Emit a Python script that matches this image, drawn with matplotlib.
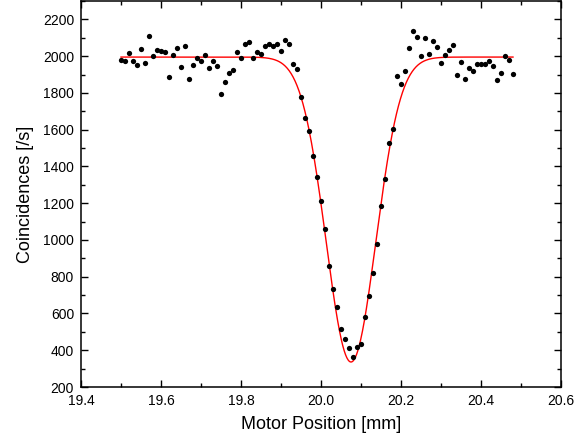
import numpy as np
import matplotlib
matplotlib.use('Agg')
import matplotlib.pyplot as plt
from matplotlib.ticker import MultipleLocator

plt.rcParams['font.family'] = ['Liberation Sans', 'DejaVu Sans']

# Motor positions [mm], step 0.01 from 19.50 to 20.48
positions = np.round(np.arange(19.50, 20.485, 0.01), 2)

# Measured coincidences [/s]
coincidences = [
    1979, 1975, 2019, 1975, 1950, 2039, 1964, 2109, 2001, 2033,
    2026, 2021, 1887, 2006, 2042, 1943, 2057, 1874, 1954, 1990,
    1975, 2008, 1934, 1975, 1945, 1796, 1858, 1910, 1923, 2024,
    1988, 2066, 2079, 1988, 2021, 2010, 2053, 2068, 2055, 2068,
    2026, 2086, 2064, 1959, 1932, 1780, 1664, 1593, 1457, 1345,
    1213, 1062, 859, 733, 633, 513, 459, 410, 365, 419,
    435, 580, 695, 820, 977, 1185, 1330, 1526, 1602, 1894,
    1850, 1921, 2042, 2137, 2104, 2001, 2099, 2012, 2082, 2048,
    1963, 2008, 2032, 2062, 1899, 1968, 1876, 1934, 1917, 1959,
    1955, 1955, 1975, 1948, 1872, 1910, 2003, 1979, 1903,
]

# Gaussian dip fit parameters
fit_baseline = 1995.0
fit_depth = 1659.0
fit_center = 20.075
fit_sigma = 0.062


def dip(x):
    return fit_baseline - fit_depth * np.exp(-(x - fit_center) ** 2 / (2 * fit_sigma ** 2))


fig = plt.figure(figsize=(5.74, 4.44), dpi=100)
ax = fig.add_axes([81 / 574, 1 - 387 / 444, 480 / 574, 386 / 444])

x_fit = np.linspace(positions[0], positions[-1], 600)
ax.plot(x_fit, dip(x_fit), color='red', linewidth=1.0, zorder=2)
ax.plot(positions, coincidences, 'o', color='black', markersize=3.8,
        markeredgewidth=0, zorder=3)

ax.set_xlim(19.4, 20.6)
ax.set_ylim(200, 2300)
ax.xaxis.set_major_locator(MultipleLocator(0.2))
ax.xaxis.set_minor_locator(MultipleLocator(0.1))
ax.yaxis.set_major_locator(MultipleLocator(200))
ax.yaxis.set_minor_locator(MultipleLocator(100))
ax.xaxis.set_major_formatter(plt.FormatStrFormatter('%.1f'))

ax.tick_params(which='both', direction='in', top=True, right=True,
               labelsize=10, width=1.0, pad=5)
ax.tick_params(which='major', length=5)
ax.tick_params(which='minor', length=3)
for sp in ax.spines.values():
    sp.set_linewidth(1.1)

ax.set_xlabel('Motor Position [mm]', fontsize=13, labelpad=6)
ax.set_ylabel('Coincidences [/s]', fontsize=13, labelpad=6)

fig.savefig('out.png', dpi=100)
